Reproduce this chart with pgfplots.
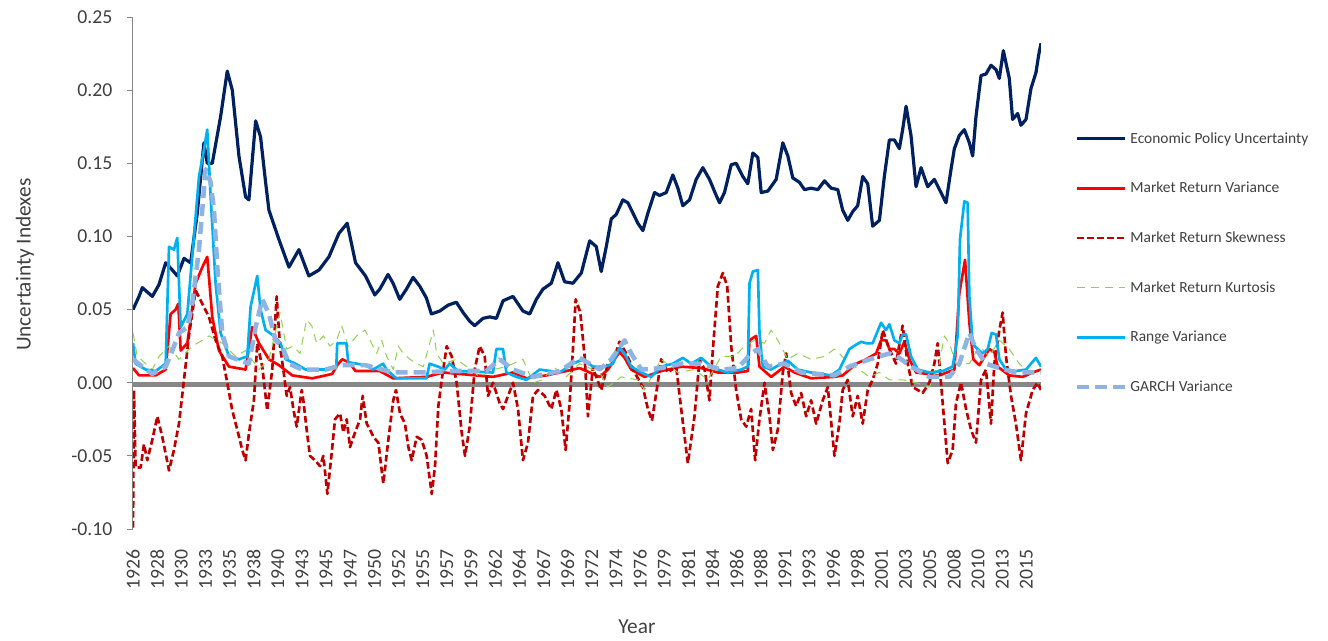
\documentclass[border=0pt]{standalone}
\usepackage{pgfplots}
\pgfplotsset{compat=1.18}
\usepackage{fontspec}
\setmainfont{Carlito}
\definecolor{epu}{HTML}{002060}
\definecolor{mrv}{HTML}{FF0000}
\definecolor{skew}{HTML}{C00000}
\definecolor{kurt}{HTML}{92D050}
\definecolor{rng}{HTML}{00B0F0}
\definecolor{garch}{HTML}{8EB4E3}
\definecolor{axgray}{HTML}{868686}
\definecolor{zerogray}{HTML}{878787}
\definecolor{txt}{HTML}{404040}
\begin{document}
\begin{tikzpicture}
\begin{axis}[
  scale only axis, width=681pt, height=384pt,
  xmin=1926, xmax=2016.25, ymin=-0.1, ymax=0.25,
  axis lines*=left,
  axis line style={-},
  x axis line style={draw=none},
  y axis line style={draw=axgray, line width=0.75pt},
  tick align=outside,
  major tick length=4.5pt,
  xtick={1926,1928.4,...,2015.2},
  xticklabels={1926,1928,1930,1933,1935,1938,1940,1943,1945,1947,1950,1952,1955,1957,1959,1962,1964,1967,1969,1972,1974,1976,1979,1981,1984,1986,1988,1991,1993,1996,1998,2001,2003,2005,2008,2010,2013,2015},
  xtick style={draw=none},
  ytick={-0.1,-0.05,0,0.05,0.1,0.15,0.2,0.25},
  yticklabels={-0.10,-0.05,0.00,0.05,0.10,0.15,0.20,0.25},
  ytick style={draw=axgray, line width=0.75pt},
  extra y ticks={0},
  extra y tick labels={},
  extra y tick style={grid=major, major grid style={draw=zerogray, line width=3.75pt, yshift=-1.1pt}},
  ticklabel style={font=\fontsize{14.8}{17}\selectfont, text=txt},
  xticklabel style={rotate=90, anchor=east, xshift=-7.5pt},
  yticklabel style={anchor=east, xshift=-7.5pt},
  xlabel={Year},
  ylabel={Uncertainty Indexes},
  label style={font=\fontsize{16}{19}\selectfont, text=txt},
  xlabel style={at={(axis description cs:0.555,-0.191)}, anchor=center},
  ylabel style={at={(axis description cs:-0.119,0.516)}, anchor=center},
  legend image code/.code={\draw[#1] (0pt,0pt) -- (36pt,0pt);},
  legend style={at={(axis description cs:1.0374,0.7805)}, anchor=north west, draw=none, fill=none,
    font=\fontsize{11.6}{13}\selectfont, text=txt, row sep=23.7pt, inner sep=0pt},
  legend cell align=left,
  line join=round,
]
\addplot[epu, line width=2.4pt] coordinates {
(1926.00,0.050) (1926.60,0.059) (1926.93,0.065) (1927.42,0.062) (1927.92,0.059) (1928.58,0.067) (1929.25,0.082) (1929.91,0.077) (1930.40,0.073) (1931.07,0.085) (1931.73,0.082) (1932.39,0.116) (1933.05,0.164) (1933.38,0.150) (1933.88,0.150) (1934.71,0.182) (1935.37,0.213) (1935.87,0.200) (1936.53,0.155) (1937.19,0.127) (1937.52,0.125) (1938.19,0.179) (1938.68,0.168) (1939.18,0.137) (1939.51,0.118) (1940.50,0.098) (1941.50,0.079) (1942.49,0.091) (1943.48,0.073) (1944.48,0.077) (1945.47,0.086) (1946.46,0.102) (1947.29,0.109) (1948.12,0.082) (1949.11,0.073)
(1950.03,0.060) (1950.53,0.064) (1951.35,0.074) (1951.85,0.068) (1952.51,0.057) (1953.18,0.064) (1953.84,0.072) (1954.50,0.066) (1955.16,0.058) (1955.66,0.047) (1956.49,0.049) (1957.31,0.053) (1958.14,0.055) (1958.81,0.048) (1959.47,0.042) (1959.96,0.039) (1960.79,0.044) (1961.45,0.045) (1962.12,0.044) (1962.78,0.056) (1963.77,0.059) (1964.76,0.049) (1965.43,0.047) (1966.09,0.057) (1966.75,0.064) (1967.58,0.068) (1968.24,0.082) (1968.90,0.069) (1969.73,0.068) (1970.56,0.075) (1971.39,0.097) (1972.05,0.093)
(1972.54,0.076) (1973.04,0.093) (1973.54,0.112) (1974.03,0.115) (1974.69,0.125) (1975.19,0.123) (1975.69,0.116) (1976.18,0.109) (1976.68,0.104) (1977.18,0.116) (1977.84,0.130) (1978.34,0.128) (1979.00,0.130) (1979.66,0.142) (1980.16,0.133) (1980.65,0.121) (1981.32,0.125) (1981.98,0.139) (1982.64,0.147) (1983.30,0.139) (1983.97,0.128) (1984.30,0.123) (1984.79,0.130) (1985.46,0.149) (1985.95,0.150) (1986.61,0.141) (1987.11,0.136) (1987.61,0.157) (1988.11,0.154) (1988.44,0.130) (1989.10,0.131) (1989.93,0.139) (1990.59,0.164) (1991.09,0.155) (1991.58,0.140) (1992.24,0.137) (1992.74,0.132) (1993.40,0.133) (1994.07,0.132) (1994.73,0.138) (1995.39,0.133)
(1996.05,0.132) (1996.54,0.118) (1997.04,0.111) (1997.54,0.117) (1998.03,0.121) (1998.53,0.141) (1999.03,0.136) (1999.52,0.107) (2000.19,0.111) (2000.68,0.141) (2001.18,0.166) (2001.68,0.166) (2002.17,0.160) (2002.50,0.173) (2002.84,0.189) (2003.33,0.169) (2003.83,0.134) (2004.33,0.147) (2004.99,0.134) (2005.65,0.139) (2006.31,0.130) (2006.81,0.123) (2007.31,0.146) (2007.64,0.160) (2008.13,0.169) (2008.63,0.173) (2009.13,0.164) (2009.46,0.155) (2009.79,0.182) (2010.29,0.210) (2010.78,0.211) (2011.28,0.217) (2011.78,0.214) (2012.11,0.208) (2012.51,0.227) (2013.10,0.208) (2013.43,0.180) (2013.93,0.184) (2014.26,0.176) (2014.76,0.180) (2015.25,0.201) (2015.75,0.212) (2016.02,0.224) (2016.25,0.232)
};
\addlegendentry{Economic Policy Uncertainty}
\addplot[mrv, line width=2pt] coordinates {
(1926.00,0.010) (1926.60,0.005) (1928.25,0.005) (1929.25,0.009) (1929.74,0.047) (1930.24,0.050) (1930.50,0.054) (1930.74,0.022) (1931.40,0.027) (1932.23,0.068) (1932.89,0.079) (1933.38,0.086) (1933.88,0.045) (1934.54,0.022) (1935.54,0.011) (1937.19,0.009) (1937.85,0.038) (1938.52,0.027) (1939.51,0.016) (1940.50,0.012) (1941.83,0.005) (1943.81,0.003) (1945.80,0.006) (1946.30,0.012) (1946.79,0.016) (1947.46,0.014) (1948.12,0.008)
(1950.53,0.008) (1951.85,0.003) (1955.16,0.004) (1956.82,0.007) (1961.78,0.004) (1963.77,0.007) (1965.10,0.003) (1967.08,0.005) (1970.39,0.010) (1972.38,0.004)
(1973.20,0.009) (1974.36,0.021) (1974.86,0.017) (1975.52,0.009) (1976.85,0.004) (1978.50,0.008) (1980.49,0.011) (1982.48,0.010) (1984.13,0.007) (1986.12,0.007) (1987.11,0.008) (1987.28,0.029) (1987.94,0.032) (1988.27,0.011) (1989.43,0.004) (1990.75,0.011) (1991.75,0.007) (1993.40,0.003) (1995.72,0.004)
(1996.54,0.005) (1997.87,0.013) (1998.86,0.016) (1999.86,0.020) (2000.35,0.029) (2000.85,0.029) (2001.18,0.023) (2001.68,0.023) (2002.17,0.020) (2002.67,0.028) (2003.17,0.016) (2003.83,0.007) (2006.15,0.005) (2007.64,0.009) (2008.13,0.061) (2008.70,0.084) (2009.13,0.041) (2009.52,0.016) (2010.12,0.012) (2011.11,0.023) (2011.61,0.021) (2011.94,0.011) (2013.10,0.005) (2014.43,0.004) (2015.42,0.007) (2016.25,0.009)
};
\addlegendentry{Market Return Variance}
\addplot[skew, line width=2pt, dash pattern=on 5pt off 2.4pt] coordinates {
(1926.00,-0.099) (1926.10,-0.005) (1926.26,-0.058) (1926.76,-0.058) (1927.09,-0.042) (1927.42,-0.053) (1927.92,-0.039) (1928.42,-0.023) (1928.91,-0.037) (1929.58,-0.060) (1930.07,-0.046) (1930.57,-0.028) (1931.07,0.002) (1931.56,0.032) (1932.23,0.063) (1932.89,0.054) (1933.55,0.045) (1934.21,0.029) (1934.87,0.018) (1935.37,0.000) (1935.87,-0.019) (1936.36,-0.032) (1936.86,-0.046) (1937.19,-0.053) (1937.52,-0.035) (1938.02,-0.012) (1938.35,0.027) (1938.85,0.011) (1939.34,-0.019) (1939.84,0.009)
(1940.28,0.059) (1940.61,0.025) (1940.94,0.009) (1941.28,-0.009) (1941.61,-0.003) (1941.94,-0.018) (1942.27,-0.030) (1942.77,-0.005) (1942.93,-0.012) (1943.26,-0.032) (1943.59,-0.050) (1944.09,-0.053) (1944.59,-0.057) (1944.92,-0.050) (1945.32,-0.076) (1945.75,-0.048) (1946.08,-0.025) (1946.58,-0.021) (1946.91,-0.034) (1947.24,-0.025) (1947.57,-0.044) (1948.07,-0.034) (1948.57,-0.025) (1948.83,-0.009) (1949.23,-0.028) (1949.56,-0.032) (1949.89,-0.037) (1950.39,-0.041) (1950.88,-0.069) (1951.38,-0.039) (1951.87,-0.012) (1952.14,-0.005) (1952.54,-0.021) (1953.03,-0.028) (1953.37,-0.044) (1953.70,-0.053) (1954.20,-0.037) (1954.69,-0.039) (1955.19,-0.050) (1955.69,-0.076) (1956.02,-0.057) (1956.35,-0.016) (1956.69,0.002) (1957.18,0.025) (1957.68,0.018) (1958.17,0.000) (1958.67,-0.034) (1959.00,-0.050)
(1959.47,-0.030) (1959.96,0.009) (1960.46,0.025) (1960.96,0.018) (1961.29,-0.009) (1961.78,0.000) (1962.45,-0.014) (1962.78,-0.018) (1963.28,-0.009) (1963.77,0.000) (1964.27,-0.018) (1964.76,-0.053) (1965.26,-0.041) (1965.76,-0.009) (1966.26,-0.005) (1966.92,-0.009) (1967.58,-0.018) (1968.08,-0.005) (1968.57,-0.018) (1969.00,-0.046) (1969.40,-0.014) (1969.73,0.023) (1970.00,0.057) (1970.46,0.048) (1970.89,0.018) (1971.22,-0.023) (1971.72,0.011)
(1971.88,0.007) (1972.54,-0.005) (1973.20,0.013) (1973.87,0.018) (1974.36,0.028) (1975.03,0.020) (1975.85,0.007) (1976.68,-0.003) (1977.18,-0.018) (1977.58,-0.026) (1978.01,-0.007) (1978.50,0.016) (1979.16,0.007) (1979.99,0.011) (1980.49,-0.018) (1981.15,-0.055) (1981.81,-0.023) (1982.31,0.016) (1982.81,0.009) (1983.30,-0.012) (1983.64,0.023) (1984.13,0.066) (1984.63,0.075) (1985.06,0.066) (1985.46,0.025) (1985.95,-0.005) (1986.45,-0.025) (1986.95,-0.030) (1987.44,-0.018) (1987.84,-0.053) (1988.27,-0.025) (1988.77,0.000) (1989.26,-0.023) (1989.60,-0.046) (1990.09,-0.032) (1990.59,0.007) (1990.92,0.020) (1991.42,-0.007) (1991.91,-0.016) (1992.41,-0.007) (1992.91,-0.023) (1993.40,-0.012) (1993.90,-0.028) (1994.56,-0.012) (1995.06,-0.003)
(1995.72,-0.050) (1996.21,-0.028) (1996.54,-0.005) (1997.04,0.002) (1997.54,-0.023) (1998.03,-0.009) (1998.53,-0.028) (1999.03,-0.005) (1999.52,0.002) (2000.02,0.013) (2000.52,0.036) (2001.18,0.023) (2001.84,0.013) (2002.50,0.039) (2003.00,0.013) (2003.50,-0.003) (2004.00,-0.005) (2004.49,-0.007) (2005.15,0.000) (2005.65,0.013) (2005.98,0.027) (2006.48,-0.014) (2006.98,-0.055) (2007.47,-0.046) (2007.80,-0.014) (2008.30,0.000) (2008.80,-0.018) (2009.29,-0.032) (2009.79,-0.041) (2010.29,0.002) (2010.78,0.009) (2011.28,-0.028) (2011.61,0.013) (2012.11,0.036) (2012.44,0.048) (2012.77,0.018) (2013.27,-0.009) (2013.76,-0.028) (2014.26,-0.053) (2014.76,-0.021) (2015.42,-0.005) (2015.91,0.000) (2016.25,-0.005)
};
\addlegendentry{Market Return Skewness}
\addplot[kurt, line width=0.75pt, dash pattern=on 6pt off 4.5pt] coordinates {
(1926.00,0.034) (1926.43,0.018) (1927.26,0.013) (1927.92,0.009) (1928.58,0.018) (1929.58,0.025) (1930.57,0.016) (1931.89,0.025) (1932.89,0.029) (1933.55,0.032) (1934.87,0.027) (1936.20,0.018) (1937.19,0.022) (1938.52,0.009) (1939.51,0.016)
(1940.61,0.048) (1941.28,0.023) (1941.94,0.025) (1942.60,0.020) (1943.26,0.043) (1943.76,0.039) (1944.26,0.027) (1944.92,0.032) (1945.58,0.025) (1946.24,0.029) (1946.74,0.039) (1947.40,0.025) (1948.23,0.032) (1949.06,0.036) (1949.56,0.029) (1950.22,0.020) (1950.72,0.029) (1951.21,0.018) (1951.87,0.009) (1952.37,0.025) (1952.87,0.020) (1953.53,0.016) (1954.20,0.013) (1954.86,0.011) (1955.85,0.036) (1956.18,0.020) (1956.85,0.013) (1958.17,0.016) (1959.16,0.011)
(1960.46,0.004) (1961.78,0.009) (1963.11,0.011) (1964.76,0.016) (1965.76,0.000) (1966.75,0.002) (1967.75,0.011) (1969.07,0.004) (1970.39,0.013) (1972.38,0.007)
(1973.20,-0.003) (1974.53,0.004) (1976.18,0.002) (1976.85,-0.005) (1978.50,0.016) (1980.16,0.007) (1981.81,0.009) (1983.14,0.002) (1984.46,0.018) (1985.79,0.018) (1986.78,0.025) (1987.77,0.029) (1988.77,0.027) (1989.43,0.036) (1990.09,0.029) (1991.09,0.016) (1992.08,0.020) (1993.40,0.016) (1994.73,0.018) (1995.72,0.023)
(1996.21,0.020) (1997.21,0.013) (1998.20,0.009) (1999.19,0.004) (2000.19,0.007) (2001.18,0.002) (2002.50,0.002) (2003.83,0.000) (2005.15,-0.003) (2006.15,0.013) (2006.64,0.032) (2007.14,0.027) (2007.80,0.013) (2009.13,0.013) (2010.12,0.025) (2011.11,0.018) (2012.11,0.029) (2013.10,0.023) (2014.09,0.013) (2015.09,0.007) (2016.08,0.004)
};
\addlegendentry{Market Return Kurtosis}
\addplot[rng, line width=2pt] coordinates {
(1926.00,0.027) (1926.26,0.013) (1927.26,0.009) (1928.25,0.008) (1929.25,0.013) (1929.58,0.093) (1930.07,0.091) (1930.40,0.099) (1930.74,0.038) (1931.40,0.047) (1932.06,0.100) (1932.56,0.141) (1933.05,0.159) (1933.38,0.173) (1933.72,0.127) (1934.21,0.068) (1934.71,0.034) (1935.54,0.018) (1936.53,0.016) (1937.36,0.018) (1937.69,0.052) (1938.35,0.073) (1938.68,0.050) (1939.18,0.036) (1940.01,0.032) (1940.67,0.027) (1941.17,0.016) (1942.16,0.013) (1943.15,0.009) (1945.14,0.009) (1946.20,0.010) (1946.30,0.027) (1947.20,0.027) (1947.40,0.014) (1949.11,0.012)
(1949.86,0.009) (1950.86,0.013) (1951.19,0.009) (1952.18,0.003) (1955.16,0.003) (1955.49,0.013) (1956.32,0.011) (1956.98,0.009) (1957.48,0.013) (1958.31,0.008) (1961.78,0.007) (1962.12,0.023) (1962.78,0.023) (1963.11,0.007) (1964.10,0.004) (1965.10,0.002) (1966.42,0.009) (1968.41,0.007) (1969.73,0.013) (1970.72,0.016) (1971.72,0.011)
(1972.87,0.011) (1973.70,0.013) (1974.36,0.024) (1974.86,0.020) (1975.52,0.011) (1976.52,0.007) (1977.51,0.004) (1978.50,0.011) (1979.66,0.013) (1980.65,0.017) (1981.48,0.013) (1982.48,0.017) (1983.30,0.012) (1984.13,0.009) (1985.12,0.007) (1986.45,0.009) (1987.11,0.011) (1987.28,0.068) (1987.61,0.076) (1988.11,0.077) (1988.27,0.034) (1988.60,0.011) (1989.43,0.009) (1990.42,0.013) (1991.09,0.015) (1992.08,0.009) (1993.40,0.007) (1995.40,0.005)
(1996.21,0.009) (1997.21,0.023) (1997.87,0.026) (1998.37,0.028) (1998.86,0.027) (1999.52,0.027) (2000.35,0.041) (2000.85,0.036) (2001.18,0.040) (2001.68,0.029) (2002.17,0.027) (2002.50,0.033) (2002.84,0.033) (2003.33,0.018) (2004.00,0.009) (2005.15,0.007) (2006.48,0.008) (2007.47,0.011) (2007.97,0.032) (2008.20,0.098) (2008.63,0.124) (2008.96,0.123) (2009.13,0.059) (2009.46,0.027) (2009.79,0.024) (2010.45,0.020) (2010.95,0.023) (2011.35,0.034) (2011.78,0.033) (2012.11,0.016) (2012.77,0.009) (2013.76,0.008) (2014.76,0.009) (2015.25,0.013) (2015.75,0.017) (2016.25,0.011)
};
\addlegendentry{Range Variance}
\addplot[garch, line width=3.4pt, dash pattern=on 9pt off 4.5pt] coordinates {
(1926.00,0.016) (1926.93,0.011) (1927.92,0.006) (1929.25,0.011) (1929.91,0.022) (1930.57,0.034) (1931.40,0.038) (1931.89,0.054) (1932.56,0.091) (1933.22,0.146) (1933.72,0.137) (1934.05,0.118) (1934.38,0.079) (1934.87,0.034) (1935.54,0.018) (1937.52,0.013) (1938.19,0.038) (1938.85,0.057) (1939.51,0.047) (1940.17,0.029) (1940.83,0.025) (1941.50,0.013) (1942.82,0.009) (1945.14,0.009) (1946.79,0.012) (1949.11,0.012)
(1951.85,0.007) (1954.50,0.007) (1957.81,0.008) (1961.12,0.008) (1962.45,0.016) (1963.77,0.009) (1965.76,0.004) (1968.41,0.008) (1970.39,0.017) (1972.38,0.009)
(1973.54,0.016) (1974.86,0.029) (1975.52,0.020) (1976.52,0.009) (1978.50,0.010) (1980.49,0.013) (1982.48,0.013) (1984.46,0.009) (1986.12,0.010) (1987.44,0.020) (1988.11,0.023) (1989.10,0.011) (1990.75,0.013) (1992.41,0.007) (1995.72,0.005)
(1997.21,0.011) (1999.19,0.016) (2001.18,0.020) (2002.17,0.017) (2003.33,0.011) (2005.15,0.004) (2007.14,0.004) (2008.13,0.013) (2009.13,0.034) (2009.79,0.023) (2010.78,0.013) (2012.11,0.010) (2013.76,0.007) (2016.25,0.007)
};
\addlegendentry{GARCH Variance}
\end{axis}
\pgfresetboundingbox
\path[use as bounding box] (-99.75pt,-83.25pt) rectangle (896.25pt,396.75pt);
\end{tikzpicture}
\end{document}
